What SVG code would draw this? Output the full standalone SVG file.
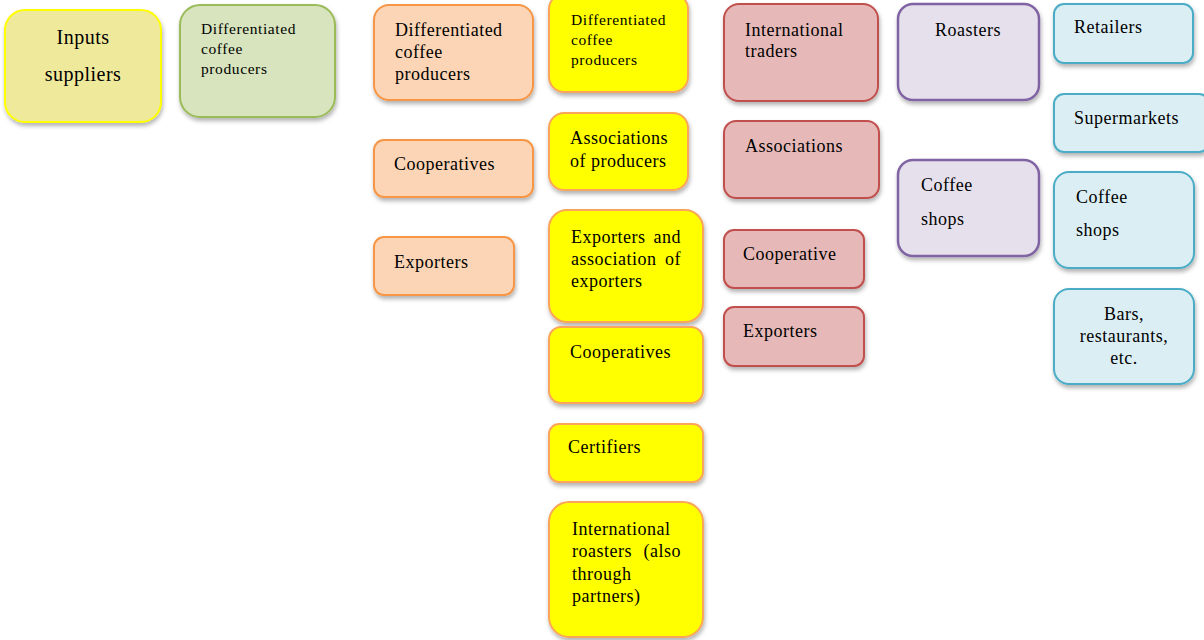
<svg xmlns="http://www.w3.org/2000/svg" width="1204" height="640" viewBox="0 0 1204 640">
<defs>
<filter id="sh" x="-10%" y="-10%" width="125%" height="130%">
<feDropShadow dx="1" dy="3" stdDeviation="2" flood-color="#000" flood-opacity="0.3"/>
</filter>
<style>
rect{filter:url(#sh);stroke-width:2}
text{font-family:"Liberation Serif","Times New Roman",serif;font-size:18px;letter-spacing:0.5px;fill:#000}
.sm{font-size:15.5px;letter-spacing:0.6px}
.big{font-size:20px}
.ins rect{fill:#efe99b;stroke:#ffff00}
.grn rect{fill:#d7e4bd;stroke:#9bbb59}
.org rect{fill:#fbd5b5;stroke:#f79646}
.yel rect{fill:#ffff00;stroke:#f9a65a}
.red rect{fill:#e6b9b8;stroke:#c0504d}
.pur rect{fill:#e5e0ec;stroke:#8064a2;stroke-width:2.5}
.blu rect{fill:#dbeef4;stroke:#4bacc6}
</style>
</defs>
<rect width="1204" height="640" fill="#fff" style="filter:none;stroke:none"/>
<g id="connectors"/>
<g id="n-inputs" class="ins"><rect x="5" y="10" width="156" height="112" rx="20"/>
<text class="big" x="83" y="44" text-anchor="middle">Inputs</text><text class="big" x="83" y="81" text-anchor="middle">suppliers</text></g>
<g id="n-green" class="grn"><rect x="180" y="5" width="155" height="112" rx="20"/>
<text class="sm" x="201" y="34">Differentiated</text><text class="sm" x="201" y="54">coffee</text><text class="sm" x="201" y="74">producers</text></g>
<g id="n-o1" class="org"><rect x="374" y="5" width="159" height="95" rx="15"/>
<text x="395" y="36">Differentiated</text><text x="395" y="58">coffee</text><text x="395" y="80">producers</text></g>
<g id="n-o2" class="org"><rect x="374" y="140" width="159" height="57" rx="10"/>
<text x="394" y="170">Cooperatives</text></g>
<g id="n-o3" class="org"><rect x="374" y="237" width="140" height="58" rx="10"/>
<text x="394" y="268">Exporters</text></g>
<g id="n-y1" class="yel"><rect x="549" y="-6" width="139" height="98" rx="15"/>
<text class="sm" x="571" y="25">Differentiated</text><text class="sm" x="571" y="45">coffee</text><text class="sm" x="571" y="65">producers</text></g>
<g id="n-y2" class="yel"><rect x="549" y="113" width="139" height="77" rx="15"/>
<text x="570" y="144">Associations</text><text x="570" y="167">of producers</text></g>
<g id="n-y3" class="yel"><rect x="549" y="210" width="154" height="112" rx="18"/>
<text x="571" y="243">Exporters</text><text x="681" y="243" text-anchor="end">and</text>
<text x="571" y="265">association</text><text x="681" y="265" text-anchor="end">of</text>
<text x="571" y="287">exporters</text></g>
<g id="n-y4" class="yel"><rect x="549" y="327" width="154" height="76" rx="12"/>
<text x="570" y="358">Cooperatives</text></g>
<g id="n-y5" class="yel"><rect x="549" y="424" width="154" height="58" rx="10"/>
<text x="568" y="453">Certifiers</text></g>
<g id="n-y6" class="yel"><rect x="549" y="502" width="154" height="135" rx="20"/>
<text x="572" y="535">International</text>
<text x="572" y="557">roasters</text><text x="681" y="557" text-anchor="end">(also</text>
<text x="572" y="580">through</text><text x="572" y="602">partners)</text></g>
<g id="n-r1" class="red"><rect x="724" y="4" width="154" height="97" rx="15"/>
<text x="745" y="36">International</text><text x="745" y="57">traders</text></g>
<g id="n-r2" class="red"><rect x="724" y="121" width="155" height="77" rx="12"/>
<text x="745" y="152">Associations</text></g>
<g id="n-r3" class="red"><rect x="724" y="230" width="140" height="58" rx="10"/>
<text x="743" y="260">Cooperative</text></g>
<g id="n-r4" class="red"><rect x="724" y="307" width="140" height="59" rx="10"/>
<text x="743" y="337">Exporters</text></g>
<g id="n-p1" class="pur"><rect x="898" y="4" width="141" height="96" rx="15"/>
<text x="968" y="36" text-anchor="middle">Roasters</text></g>
<g id="n-p2" class="pur"><rect x="898" y="160" width="141" height="96" rx="15"/>
<text x="921" y="191">Coffee</text><text x="921" y="225">shops</text></g>
<g id="n-b1" class="blu"><rect x="1054" y="4" width="139" height="59" rx="10"/>
<text x="1074" y="33">Retailers</text></g>
<g id="n-b2" class="blu"><rect x="1054" y="94" width="155" height="58" rx="10"/>
<text x="1074" y="124">Supermarkets</text></g>
<g id="n-b3" class="blu"><rect x="1054" y="172" width="140" height="96" rx="15"/>
<text x="1076" y="203">Coffee</text><text x="1076" y="236">shops</text></g>
<g id="n-b4" class="blu"><rect x="1054" y="289" width="140" height="95" rx="15"/>
<text x="1124" y="320" text-anchor="middle">Bars,</text><text x="1124" y="342" text-anchor="middle">restaurants,</text><text x="1124" y="364" text-anchor="middle">etc.</text></g>
</svg>
